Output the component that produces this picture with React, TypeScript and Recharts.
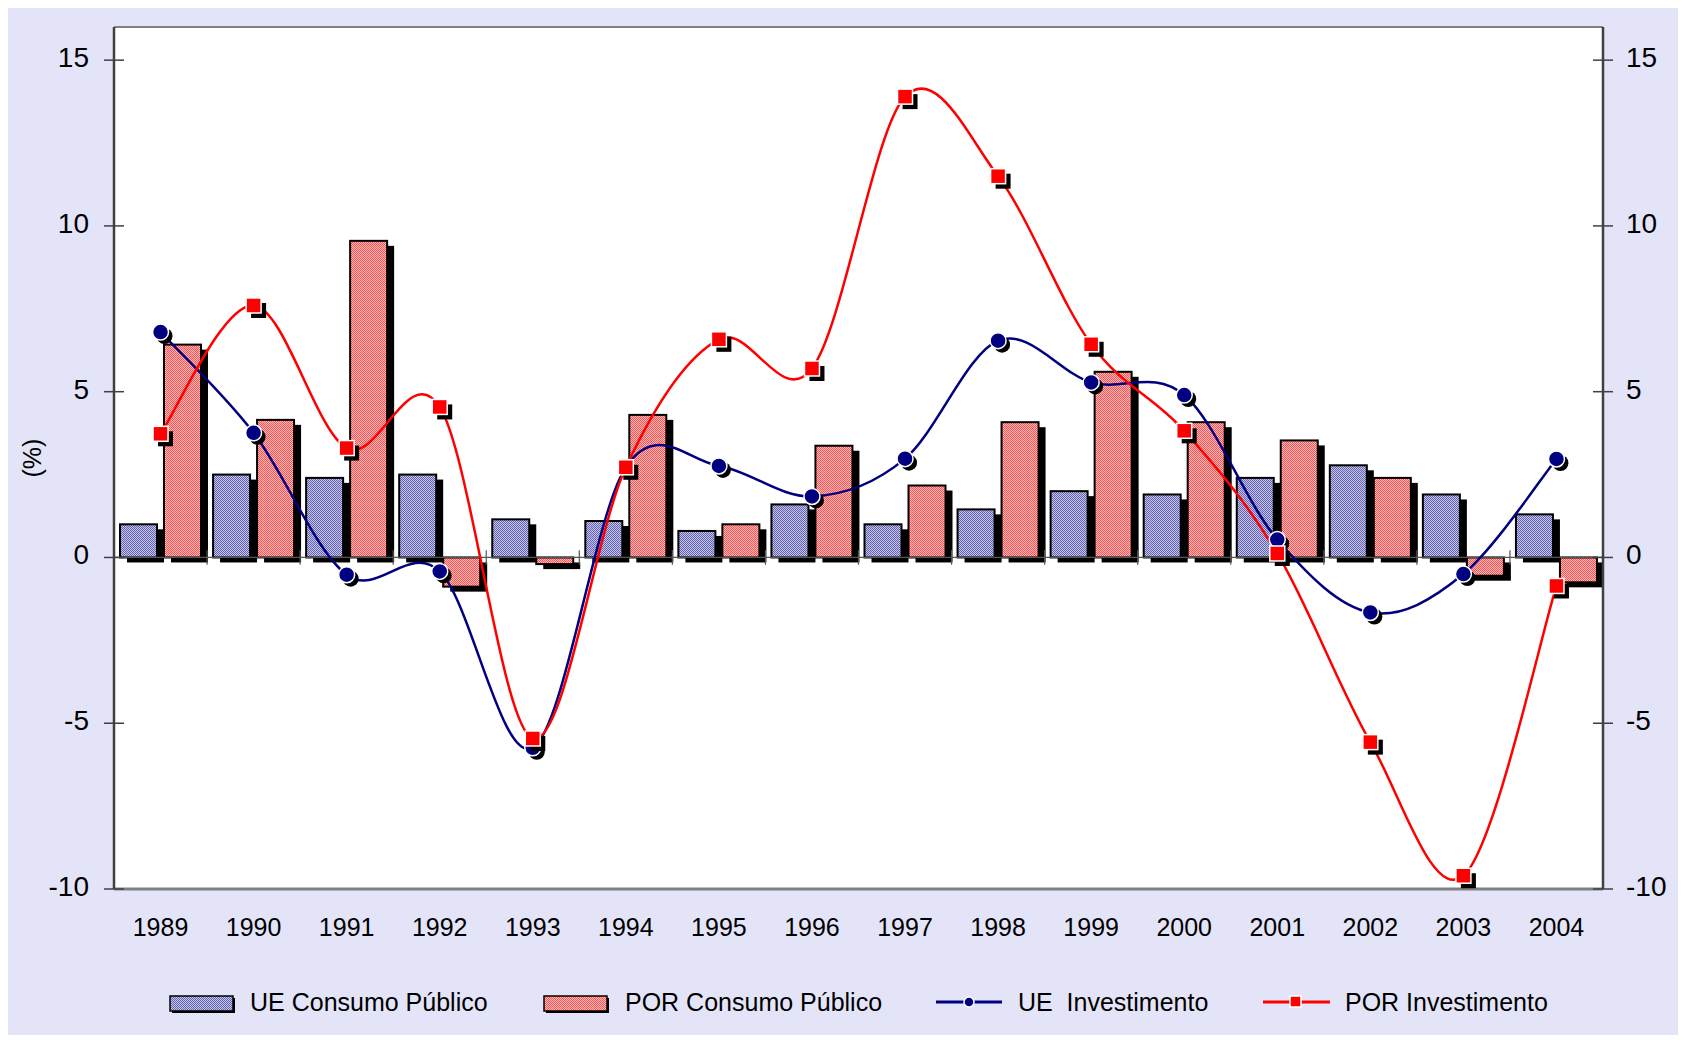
import React from 'react';
import { ComposedChart, Bar, Line, XAxis, YAxis, CartesianGrid, ReferenceLine } from 'recharts';

const years = ['1989', '1990', '1991', '1992', '1993', '1994', '1995', '1996', '1997', '1998', '1999', '2000', '2001', '2002', '2003', '2004'];
const ueConsumo = [1.0, 2.5, 2.4, 2.5, 1.15, 1.1, 0.8, 1.6, 1.0, 1.45, 2.0, 1.9, 2.4, 2.78, 1.9, 1.3];
const porConsumo = [6.42, 4.15, 9.55, -0.88, -0.2, 4.3, 1.0, 3.37, 2.17, 4.08, 5.6, 4.08, 3.53, 2.4, -0.55, -0.75];
const ueInvest = [6.8, 3.76, -0.52, -0.42, -5.74, 2.72, 2.76, 1.84, 2.98, 6.54, 5.28, 4.9, 0.54, -1.66, -0.5, 2.97];
const porInvest = [3.73, 7.6, 3.3, 4.54, -5.46, 2.72, 6.58, 5.7, 13.9, 11.5, 6.43, 3.82, 0.12, -5.57, -9.6, -0.86];
const yTicks = [-10, -5, 0, 5, 10, 15];
const yDomain = [-10, 16];

const labels = {
  ueC: 'UE Consumo Público',
  porC: 'POR Consumo Público',
  ueI: 'UE  Investimento',
  porI: 'POR Investimento',
};

const data = years.map((year, i) => ({
  year,
  ueC: ueConsumo[i],
  porC: porConsumo[i],
  ueI: ueInvest[i],
  porI: porInvest[i],
}));

const FONT = "'Liberation Sans', Arial, Helvetica, sans-serif";
const NAVY = '#000080';
const RED = '#FF0000';
const BG = '#E4E4F9';

// Uniform Catmull-Rom spline (like Excel smoothed lines)
const catmullRom = (context: any) => {
  let pts: number[][] = [];
  return {
    areaStart() {},
    areaEnd() {},
    lineStart() {
      pts = [];
    },
    lineEnd() {
      const n = pts.length;
      if (!n) return;
      context.moveTo(pts[0][0], pts[0][1]);
      for (let i = 0; i < n - 1; i++) {
        const p0 = pts[i - 1] || pts[i];
        const p1 = pts[i];
        const p2 = pts[i + 1];
        const p3 = pts[i + 2] || p2;
        context.bezierCurveTo(
          p1[0] + (p2[0] - p0[0]) / 6,
          p1[1] + (p2[1] - p0[1]) / 6,
          p2[0] - (p3[0] - p1[0]) / 6,
          p2[1] - (p3[1] - p1[1]) / 6,
          p2[0],
          p2[1]
        );
      }
    },
    point(x: number, y: number) {
      pts.push([+x, +y]);
    },
  };
};

const makeBarShape = (patternId: string) => (props: any) => {
  const { x, y, width, height } = props;
  if (x == null || y == null) return <g />;
  const top = Math.min(y, y + height);
  const h = Math.abs(height);
  return (
    <g>
      <rect x={x + 7} y={top + 5} width={width} height={h} fill="#000" />
      <rect x={x} y={top} width={width} height={h} fill={`url(#${patternId})`} stroke="#000" strokeWidth={2} />
    </g>
  );
};

const ueBarShape = makeBarShape('patUE');
const porBarShape = makeBarShape('patPOR');

const CircleDot = (props: any) => {
  const { cx, cy, index } = props;
  if (cx == null || cy == null) return <g key={`c${index}`} />;
  return (
    <g key={`c${index}`}>
      <circle cx={cx + 4} cy={cy + 4} r={8} fill="#000" />
      <circle cx={cx} cy={cy} r={8} fill={NAVY} stroke="#fff" strokeWidth={1.5} />
    </g>
  );
};

const SquareDot = (props: any) => {
  const { cx, cy, index } = props;
  if (cx == null || cy == null) return <g key={`s${index}`} />;
  const s = 15;
  return (
    <g key={`s${index}`}>
      <rect x={cx - s / 2 + 5} y={cy - s / 2 + 5} width={s} height={s} fill="#000" />
      <rect x={cx - s / 2} y={cy - s / 2} width={s} height={s} fill={RED} stroke="#fff" strokeWidth={1.5} />
    </g>
  );
};

const LeftTick = (props: any) => {
  const { x, y, payload } = props;
  return (
    <g>
      <line x1={x - 10} x2={x + 10} y1={y} y2={y} stroke="#404040" strokeWidth={1.5} />
      <text x={x - 25} y={y + 7} textAnchor="end" fontSize={28} fontFamily={FONT} fill="#000">
        {payload.value}
      </text>
    </g>
  );
};

const RightTick = (props: any) => {
  const { x, y, payload } = props;
  return (
    <g>
      <line x1={x - 10} x2={x + 10} y1={y} y2={y} stroke="#404040" strokeWidth={1.5} />
      <text x={x + 23} y={y + 7} textAnchor="start" fontSize={28} fontFamily={FONT} fill="#000">
        {payload.value}
      </text>
    </g>
  );
};

const XTick = (props: any) => {
  const { x, y, payload } = props;
  return (
    <text x={x} y={y + 47} textAnchor="middle" fontSize={25} fontFamily={FONT} fill="#000">
      {payload.value}
    </text>
  );
};

const Legend = () => (
  <svg
    width={1670}
    height={1027}
    style={{ position: 'absolute', left: 0, top: 0, pointerEvents: 'none' }}
  >
    <rect x={164} y={990} width={63} height={15} fill="#000" />
    <rect x={162} y={988} width={63} height={15} fill="url(#patUE)" stroke="#000" strokeWidth={1.5} />
    <text x={242} y={1003} fontSize={25} fontFamily={FONT} fill="#000">{labels.ueC}</text>

    <rect x={538} y={990} width={63} height={15} fill="#000" />
    <rect x={536} y={988} width={63} height={15} fill="url(#patPOR)" stroke="#000" strokeWidth={1.5} />
    <text x={617} y={1003} fontSize={25} fontFamily={FONT} fill="#000">{labels.porC}</text>

    <line x1={928} x2={994} y1={994} y2={994} stroke={NAVY} strokeWidth={3} />
    <circle cx={961} cy={994} r={5} fill={NAVY} stroke="#fff" strokeWidth={1.5} />
    <text x={1010} y={1003} fontSize={25} fontFamily={FONT} fill="#000" style={{ whiteSpace: 'pre' }}>{labels.ueI}</text>

    <line x1={1255} x2={1322} y1={994} y2={994} stroke={RED} strokeWidth={3} />
    <rect x={1282} y={988} width={11} height={11} fill={RED} stroke="#fff" strokeWidth={1.5} />
    <text x={1337} y={1003} fontSize={25} fontFamily={FONT} fill="#000">{labels.porI}</text>
  </svg>
);

export default function App() {
  const boundaries = years.slice(1);
  return (
    <div style={{ position: 'relative', width: 1670, height: 1027, background: BG, fontFamily: FONT }}>
      <svg width={0} height={0} style={{ position: 'absolute' }}>
        <defs>
          <pattern id="patUE" width={2} height={2} patternUnits="userSpaceOnUse">
            <rect width={2} height={2} fill="#C4C4E8" />
            <rect x={0} y={0} width={1} height={1} fill="#6464B0" />
            <rect x={1} y={1} width={1} height={1} fill="#6464B0" />
          </pattern>
          <pattern id="patPOR" width={2} height={2} patternUnits="userSpaceOnUse">
            <rect width={2} height={2} fill="#FFBDBD" />
            <rect x={0} y={0} width={1} height={1} fill="#FF5050" />
            <rect x={1} y={1} width={1} height={1} fill="#FF5050" />
          </pattern>
        </defs>
      </svg>
      <ComposedChart
        width={1670}
        height={1027}
        data={data}
        margin={{ top: 19, right: 0, bottom: 86, left: 0 }}
        barCategoryGap={6}
        barGap={7}
      >
        <CartesianGrid yAxisId="left" fill="#FFFFFF" stroke="none" horizontal={false} vertical={false} />
        <XAxis
          dataKey="year"
          interval={0}
          height={60}
          tickSize={0}
          tickLine={false}
          tickMargin={0}
          axisLine={{ stroke: '#808080', strokeWidth: 3 }}
          tick={<XTick />}
          padding={{ left: 0, right: 0 }}
        />
        <YAxis
          yAxisId="left"
          orientation="left"
          width={106}
          domain={yDomain}
          ticks={yTicks}
          allowDataOverflow
          tickSize={0}
          tickMargin={0}
          tickLine={false}
          axisLine={{ stroke: '#404040', strokeWidth: 2.5 }}
          tick={<LeftTick />}
          label={{
            value: '(%)',
            angle: -90,
            position: 'insideLeft',
            offset: 24,
            style: { fontSize: 25, fontFamily: FONT, fill: '#000', textAnchor: 'middle' },
          }}
        />
        <YAxis
          yAxisId="right"
          orientation="right"
          width={75}
          domain={yDomain}
          ticks={yTicks}
          allowDataOverflow
          tickSize={0}
          tickMargin={0}
          tickLine={false}
          axisLine={{ stroke: '#404040', strokeWidth: 2.5 }}
          tick={<RightTick />}
        />
        <ReferenceLine yAxisId="left" y={16} stroke="#808080" strokeWidth={2} ifOverflow="extendDomain" />
        <ReferenceLine yAxisId="left" y={0} stroke="#555555" strokeWidth={1.2} />
        {boundaries.map((yr) => (
          <ReferenceLine
            key={`b${yr}`}
            yAxisId="left"
            position="start"
            segment={[
              { x: yr, y: 0.22 },
              { x: yr, y: -0.22 },
            ]}
            stroke="#555555"
            strokeWidth={1.2}
          />
        ))}
        <Bar yAxisId="left" dataKey="ueC" name={labels.ueC} shape={ueBarShape} isAnimationActive={false} />
        <Bar yAxisId="left" dataKey="porC" name={labels.porC} shape={porBarShape} isAnimationActive={false} />
        <Line
          yAxisId="left"
          dataKey="ueI"
          name={labels.ueI}
          type={catmullRom as any}
          stroke={NAVY}
          strokeWidth={2.5}
          dot={CircleDot}
          activeDot={false}
          isAnimationActive={false}
        />
        <Line
          yAxisId="left"
          dataKey="porI"
          name={labels.porI}
          type={catmullRom as any}
          stroke={RED}
          strokeWidth={2.5}
          dot={SquareDot}
          activeDot={false}
          isAnimationActive={false}
        />
      </ComposedChart>
      <Legend />
    </div>
  );
}
